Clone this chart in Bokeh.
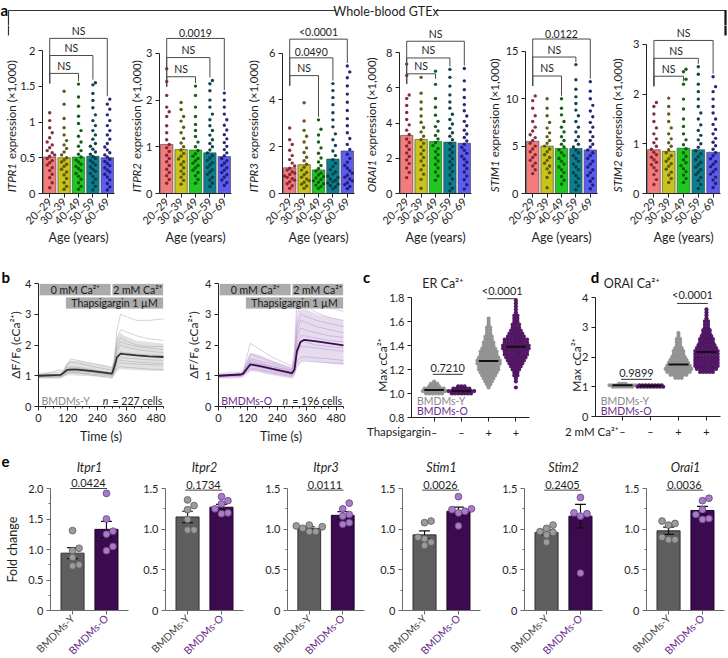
import math
from bokeh.plotting import figure
from bokeh.layouts import row, column
from bokeh.models import Range1d, Label, FixedTicker, LinearAxis
from bokeh.embed import file_html
from bokeh.resources import INLINE

# ============================ DATA ============================
# ---- panel a: whole-blood GTEx expression (x1,000) by age group ----
AGE_LABELS = ["20–29", "30–39", "40–49", "50–59", "60–69"]
A_GENES = ["ITPR1", "ITPR2", "ITPR3", "ORAI1", "STIM1", "STIM2"]
A_MEANS = [
    [0.51, 0.50, 0.51, 0.52, 0.50],
    [1.05, 0.94, 0.93, 0.87, 0.79],
    [1.10, 1.23, 1.01, 1.47, 1.82],
    [3.30, 3.07, 2.95, 2.92, 2.85],
    [5.50, 5.00, 4.75, 4.75, 4.60],
    [0.88, 0.85, 0.91, 0.88, 0.83],
]
ITPR1_VALUES = [
    [1.13, 1.02, 0.92, 0.85, 0.78, 0.72, 0.68, 0.64, 0.60, 0.57, 0.54, 0.52, 0.49, 0.46, 0.43, 0.40, 0.36, 0.32, 0.27, 0.22, 0.15, 0.08],
    [1.43, 1.25, 1.05, 0.92, 0.82, 0.74, 0.68, 0.63, 0.58, 0.54, 0.50, 0.47, 0.44, 0.41, 0.38, 0.34, 0.30, 0.26, 0.21, 0.15, 0.10, 0.06],
    [1.53, 1.35, 1.22, 1.08, 0.98, 0.88, 0.80, 0.72, 0.66, 0.60, 0.55, 0.51, 0.47, 0.44, 0.41, 0.38, 0.35, 0.32, 0.28, 0.24, 0.20, 0.15, 0.10, 0.06],
    [1.55, 1.52, 1.40, 1.30, 1.20, 1.10, 1.02, 0.95, 0.88, 0.82, 0.76, 0.70, 0.66, 0.62, 0.58, 0.55, 0.52, 0.49, 0.46, 0.43, 0.40, 0.37, 0.34, 0.31, 0.28, 0.24, 0.20, 0.15, 0.10, 0.05],
    [1.32, 1.25, 1.18, 1.10, 1.02, 0.95, 0.88, 0.82, 0.76, 0.70, 0.65, 0.61, 0.57, 0.54, 0.51, 0.48, 0.45, 0.42, 0.39, 0.36, 0.33, 0.30, 0.27, 0.23, 0.19, 0.14, 0.09, 0.05],
]
ITPR2_VALUES = [
    [2.67, 2.40, 2.10, 1.85, 1.75, 1.65, 1.45, 1.30, 1.15, 1.05, 0.98, 0.90, 0.82, 0.75, 0.68, 0.60, 0.52, 0.45, 0.38, 0.30, 0.22],
    [1.95, 1.80, 1.65, 1.55, 1.42, 1.30, 1.18, 1.08, 1.00, 0.93, 0.86, 0.80, 0.74, 0.68, 0.62, 0.55, 0.48, 0.42, 0.35, 0.28, 0.20],
    [2.30, 2.10, 1.85, 1.65, 1.48, 1.35, 1.22, 1.10, 1.00, 0.92, 0.85, 0.80, 0.75, 0.70, 0.65, 0.60, 0.55, 0.50, 0.45, 0.38, 0.30, 0.22],
    [2.42, 2.35, 2.20, 2.00, 1.85, 1.70, 1.58, 1.45, 1.35, 1.25, 1.15, 1.07, 1.00, 0.93, 0.87, 0.81, 0.76, 0.71, 0.66, 0.61, 0.56, 0.51, 0.46, 0.41, 0.35, 0.29, 0.22, 0.15],
    [2.15, 2.00, 1.85, 1.70, 1.58, 1.46, 1.36, 1.26, 1.17, 1.09, 1.01, 0.94, 0.87, 0.81, 0.75, 0.70, 0.65, 0.60, 0.55, 0.50, 0.45, 0.40, 0.35, 0.29, 0.23, 0.17],
]
ITPR3_VALUES = [
    [2.80, 2.30, 2.10, 1.85, 1.62, 1.45, 1.30, 1.18, 1.08, 1.00, 0.93, 0.87, 0.81, 0.75, 0.69, 0.63, 0.57, 0.50, 0.42, 0.33, 0.22],
    [3.88, 3.10, 2.70, 2.45, 2.20, 1.95, 1.75, 1.55, 1.40, 1.25, 1.12, 1.00, 0.90, 0.80, 0.70, 0.62, 0.55, 0.48, 0.40, 0.32, 0.22],
    [3.15, 2.75, 2.50, 2.20, 1.95, 1.72, 1.52, 1.35, 1.20, 1.07, 0.96, 0.87, 0.79, 0.72, 0.66, 0.60, 0.54, 0.48, 0.42, 0.36, 0.30, 0.22],
    [4.70, 4.40, 4.10, 3.80, 3.45, 3.15, 2.85, 2.55, 2.30, 2.05, 1.82, 1.62, 1.45, 1.30, 1.15, 1.02, 0.92, 0.83, 0.75, 0.68, 0.62, 0.56, 0.50, 0.45, 0.40, 0.34, 0.28, 0.20],
    [5.45, 5.20, 4.95, 4.60, 4.25, 3.90, 3.55, 3.20, 2.90, 2.60, 2.35, 2.10, 1.88, 1.68, 1.50, 1.34, 1.20, 1.08, 0.97, 0.87, 0.78, 0.70, 0.62, 0.54, 0.46, 0.38, 0.30, 0.20],
]
ORAI1_VALUES = [
    [7.35, 6.70, 5.60, 5.40, 5.00, 4.60, 4.20, 3.90, 3.60, 3.35, 3.10, 2.90, 2.70, 2.50, 2.30, 2.10, 1.90, 1.70, 1.45, 1.20, 0.90],
    [6.60, 5.70, 5.20, 4.80, 4.40, 4.05, 3.75, 3.50, 3.25, 3.05, 2.85, 2.65, 2.45, 2.25, 2.05, 1.85, 1.60, 1.35, 1.10, 0.80, 0.30],
    [6.95, 6.20, 5.40, 4.90, 4.45, 4.10, 3.80, 3.55, 3.30, 3.10, 2.90, 2.72, 2.55, 2.38, 2.20, 2.02, 1.85, 1.65, 1.45, 1.22, 1.00, 0.75],
    [7.05, 6.60, 6.10, 5.60, 5.20, 4.85, 4.50, 4.20, 3.95, 3.70, 3.45, 3.25, 3.05, 2.85, 2.68, 2.50, 2.33, 2.15, 1.98, 1.80, 1.62, 1.45, 1.25, 1.05, 0.82, 0.55, 0.30, 0.15],
    [7.10, 6.40, 5.90, 5.45, 5.05, 4.70, 4.40, 4.10, 3.85, 3.60, 3.38, 3.18, 2.98, 2.80, 2.62, 2.45, 2.28, 2.12, 1.95, 1.78, 1.60, 1.42, 1.22, 1.00, 0.78, 0.50, 0.25],
]
STIM1_VALUES = [
    [10.3, 9.8, 9.0, 8.2, 7.6, 7.0, 6.6, 6.2, 5.9, 5.6, 5.3, 5.0, 4.7, 4.4, 4.1, 3.8, 3.5, 3.2, 2.9, 2.5, 2.1],
    [10.0, 9.0, 8.2, 7.5, 6.9, 6.4, 6.0, 5.6, 5.3, 5.0, 4.7, 4.4, 4.1, 3.8, 3.5, 3.2, 2.9, 2.6, 2.2, 1.7, 0.6],
    [10.0, 9.0, 8.3, 7.6, 7.0, 6.5, 6.0, 5.6, 5.2, 4.9, 4.6, 4.3, 4.0, 3.7, 3.4, 3.1, 2.8, 2.5, 2.2, 1.8, 1.4, 1.0],
    [13.6, 12.0, 11.0, 10.2, 9.5, 8.8, 8.2, 7.6, 7.0, 6.5, 6.0, 5.6, 5.2, 4.9, 4.6, 4.3, 4.0, 3.7, 3.4, 3.1, 2.8, 2.5, 2.2, 1.9, 1.6, 1.2, 0.8, 0.4],
    [11.8, 10.8, 10.0, 9.3, 8.7, 8.1, 7.5, 7.0, 6.5, 6.0, 5.6, 5.2, 4.9, 4.6, 4.3, 4.0, 3.7, 3.4, 3.1, 2.8, 2.5, 2.2, 1.9, 1.6, 1.3, 0.9, 0.5],
]
STIM2_VALUES = [
    [1.83, 1.75, 1.60, 1.45, 1.32, 1.20, 1.10, 1.02, 0.95, 0.89, 0.83, 0.78, 0.73, 0.68, 0.63, 0.58, 0.52, 0.46, 0.38, 0.28, 0.18],
    [1.92, 1.75, 1.60, 1.45, 1.32, 1.20, 1.10, 1.02, 0.95, 0.88, 0.82, 0.76, 0.70, 0.65, 0.60, 0.55, 0.49, 0.43, 0.37, 0.30, 0.22],
    [2.50, 2.45, 2.30, 2.20, 1.90, 1.70, 1.50, 1.35, 1.20, 1.08, 0.98, 0.90, 0.82, 0.75, 0.68, 0.62, 0.56, 0.50, 0.44, 0.37, 0.30, 0.22],
    [2.55, 2.40, 2.20, 2.05, 1.90, 1.75, 1.62, 1.50, 1.38, 1.27, 1.17, 1.08, 1.00, 0.93, 0.86, 0.80, 0.74, 0.68, 0.63, 0.58, 0.53, 0.48, 0.43, 0.38, 0.32, 0.26, 0.18, 0.10],
    [2.35, 2.15, 2.05, 1.90, 1.75, 1.62, 1.50, 1.39, 1.29, 1.20, 1.11, 1.03, 0.96, 0.89, 0.82, 0.76, 0.70, 0.64, 0.59, 0.54, 0.49, 0.44, 0.39, 0.33, 0.27, 0.20, 0.12],
]
A_VALUES = [ITPR1_VALUES, ITPR2_VALUES, ITPR3_VALUES, ORAI1_VALUES, STIM1_VALUES, STIM2_VALUES]
# comparisons of 20-29 vs 40-49, 50-59 and 60-69
A_COMPARE_TO = [2, 3, 4]
A_PVALUES = [
    ["NS", "NS", "NS"],
    ["NS", "NS", "0.0019"],
    ["NS", "0.0490", "<0.0001"],
    ["NS", "NS", "NS"],
    ["NS", "NS", "0.0122"],
    ["NS", "NS", "NS"],
]
A_BRACKET_LEVELS = [
    [1.68, 1.93, 2.17],
    [2.50, 2.91, 3.32],
    [5.04, 5.80, 6.60],
    [6.80, 7.70, 8.65],
    [12.4, 14.4, 16.3],
    [2.36, 2.72, 3.08],
]
A_YTICKS = [[0, 0.5, 1, 1.5, 2], [0, 1, 2, 3], [0, 2, 4, 6], [0, 2, 4, 6, 8], [0, 5, 10, 15], [0, 1, 2, 3]]
A_YTICK_LABELS = [["0", "0.5", "1", "1.5", "2"], ["0", "1", "2", "3"], ["0", "2", "4", "6"],
                  ["0", "2", "4", "6", "8"], ["0", "5", "10", "15"], ["0", "1", "2", "3"]]

# ---- panel b: Ca2+ imaging traces ----
B_TIME = [0, 90, 100, 115, 130, 160, 220, 290, 300, 310, 320, 335, 350, 400, 450, 510]
B_Y_MEAN = [1.00, 1.03, 1.08, 1.18, 1.20, 1.20, 1.15, 1.08, 1.07, 1.30, 1.60, 1.72, 1.70, 1.66, 1.63, 1.61]
B_Y_LOW = [0.90, 0.90, 0.95, 1.00, 1.02, 1.00, 0.98, 0.92, 0.90, 1.00, 1.15, 1.22, 1.20, 1.18, 1.16, 1.15]
B_Y_HIGH = [1.10, 1.15, 1.20, 1.40, 1.50, 1.50, 1.40, 1.30, 1.28, 1.60, 2.20, 2.40, 2.30, 2.15, 2.10, 2.05]
B_Y_TRACES = [
    [1.00, 1.02, 1.10, 1.35, 1.45, 1.42, 1.30, 1.20, 1.18, 1.60, 2.50, 3.00, 2.95, 2.80, 2.80, 2.85],
    [1.00, 1.00, 1.05, 1.25, 1.30, 1.28, 1.20, 1.12, 1.10, 1.50, 2.20, 2.50, 2.45, 2.30, 2.20, 2.15],
    [0.98, 1.00, 1.05, 1.20, 1.25, 1.25, 1.18, 1.10, 1.08, 1.40, 1.90, 2.10, 2.05, 1.95, 1.90, 1.85],
    [1.00, 1.02, 1.06, 1.15, 1.20, 1.20, 1.15, 1.08, 1.06, 1.30, 1.65, 1.78, 1.75, 1.70, 1.68, 1.65],
    [1.02, 1.03, 1.07, 1.20, 1.22, 1.20, 1.12, 1.05, 1.03, 1.25, 1.50, 1.60, 1.58, 1.55, 1.52, 1.50],
    [0.97, 0.98, 1.00, 1.10, 1.15, 1.15, 1.10, 1.03, 1.00, 1.15, 1.35, 1.42, 1.40, 1.38, 1.36, 1.35],
    [1.00, 1.00, 1.02, 1.05, 1.10, 1.10, 1.05, 1.00, 0.98, 1.10, 1.25, 1.30, 1.28, 1.25, 1.22, 1.20],
    [1.00, 1.20, 1.10, 1.30, 1.55, 1.50, 1.40, 1.30, 1.25, 1.40, 1.80, 2.00, 1.95, 1.85, 1.80, 1.75],
    [0.95, 0.95, 0.98, 1.10, 1.12, 1.10, 1.02, 0.95, 0.92, 1.20, 1.45, 1.50, 1.48, 1.45, 1.42, 1.40],
    [1.00, 1.00, 1.05, 1.20, 1.25, 1.22, 1.15, 1.10, 1.10, 1.45, 2.00, 2.25, 2.15, 2.00, 1.95, 1.95],
]
B_O_MEAN = [1.00, 1.04, 1.06, 1.22, 1.37, 1.33, 1.22, 1.10, 1.08, 1.20, 1.80, 2.10, 2.17, 2.12, 2.06, 1.99]
B_O_LOW = [0.90, 0.92, 0.95, 1.05, 1.15, 1.12, 1.02, 0.92, 0.90, 1.00, 1.30, 1.45, 1.50, 1.45, 1.40, 1.35]
B_O_HIGH = [1.10, 1.15, 1.20, 1.50, 1.75, 1.70, 1.50, 1.30, 1.28, 1.60, 2.80, 3.30, 3.20, 3.00, 2.90, 2.80]
B_O_TRACES = [
    [1.00, 1.05, 1.10, 1.60, 2.05, 1.90, 1.60, 1.35, 1.30, 1.80, 3.50, 4.00, 3.80, 3.40, 3.20, 3.10],
    [1.00, 1.03, 1.08, 1.40, 1.70, 1.62, 1.45, 1.25, 1.22, 1.60, 2.90, 3.40, 3.30, 3.05, 2.90, 2.80],
    [0.98, 1.02, 1.05, 1.30, 1.50, 1.45, 1.30, 1.15, 1.12, 1.40, 2.40, 2.80, 2.75, 2.60, 2.50, 2.40],
    [1.00, 1.04, 1.06, 1.25, 1.42, 1.38, 1.25, 1.12, 1.10, 1.30, 2.00, 2.30, 2.30, 2.22, 2.15, 2.10],
    [1.02, 1.05, 1.07, 1.20, 1.35, 1.30, 1.20, 1.08, 1.05, 1.20, 1.70, 1.95, 1.95, 1.90, 1.85, 1.80],
    [0.97, 1.00, 1.03, 1.15, 1.25, 1.22, 1.12, 1.02, 1.00, 1.10, 1.45, 1.60, 1.62, 1.58, 1.55, 1.50],
    [1.00, 1.02, 1.04, 1.10, 1.20, 1.18, 1.08, 0.98, 0.96, 1.05, 1.30, 1.45, 1.48, 1.45, 1.42, 1.40],
    [1.00, 1.06, 1.10, 1.35, 1.55, 1.50, 1.38, 1.20, 1.18, 1.50, 2.60, 3.00, 2.95, 2.80, 2.70, 2.60],
    [0.95, 0.98, 1.00, 1.18, 1.30, 1.28, 1.18, 1.05, 1.02, 1.25, 1.90, 2.15, 2.10, 2.00, 1.95, 1.90],
    [1.00, 1.03, 1.05, 1.28, 1.45, 1.40, 1.30, 1.18, 1.15, 1.45, 2.20, 2.55, 2.50, 2.40, 2.30, 2.25],
]
B_BOX_TEXT = ["0 mM Ca²⁺", "2 mM Ca²⁺", "Thapsigargin 1 µM"]
B_BOX_LEFT = [3, 300, 110]
B_BOX_RIGHT = [296, 510, 510]
B_BOX_BOTTOM = [3.60, 3.60, 3.17]
B_BOX_TOP = [4.00, 4.00, 3.56]
B_N_CELLS = [227, 196]

# ---- panel c: ER Ca2+ (max cCa2+), rows of cells: value bins and counts ----
C_TICK_LABELS = ["–", "–", "+", "+"]
C_BINS = [
    [1.00, 1.02, 1.04, 1.06, 1.08, 1.10],
    [1.00, 1.02, 1.04, 1.06],
    [1.050, 1.075, 1.100, 1.125, 1.150, 1.175, 1.200, 1.225, 1.250, 1.275, 1.300, 1.325,
     1.350, 1.375, 1.400, 1.425, 1.450, 1.475, 1.500, 1.525, 1.550, 1.575, 1.600, 1.625],
    [1.050, 1.100, 1.125, 1.150, 1.175, 1.200, 1.225, 1.250, 1.275, 1.300, 1.325, 1.350, 1.375, 1.400, 1.425,
     1.450, 1.475, 1.500, 1.525, 1.550, 1.575, 1.600, 1.625, 1.650, 1.675, 1.700, 1.725, 1.750, 1.775],
]
C_COUNTS = [
    [6, 8, 7, 4, 3, 1],
    [7, 9, 6, 3],
    [1, 2, 3, 4, 5, 6, 7, 7, 8, 8, 7, 6, 6, 5, 4, 4, 3, 3, 2, 2, 2, 1, 1, 1],
    [1, 1, 1, 2, 2, 3, 4, 5, 6, 7, 8, 8, 9, 9, 8, 8, 6, 5, 4, 3, 3, 2, 2, 2, 1, 1, 1, 1, 1],
]
C_MEANS = [1.03, 1.02, 1.27, 1.39]
C_PVALUES = ["0.7210", "<0.0001"]
C_PLEVELS = [1.16, 1.79]

# ---- panel d: ORAI Ca2+ ----
D_TICK_LABELS = ["–", "–", "+", "+"]
D_BINS = [
    [1.00, 1.05, 1.10],
    [1.00, 1.05],
    [1.3, 1.4, 1.5, 1.6, 1.7, 1.8, 1.9, 2.0, 2.1, 2.2, 2.3, 2.4, 2.5, 2.6, 2.7, 2.8],
    [1.5, 1.6, 1.7, 1.8, 1.9, 2.0, 2.1, 2.2, 2.3, 2.4, 2.5, 2.6, 2.7, 2.8, 2.9, 3.0, 3.1, 3.2, 3.3, 3.4, 3.5, 3.6],
]
D_COUNTS = [
    [7, 9, 3],
    [9, 8],
    [3, 6, 8, 9, 8, 7, 6, 5, 4, 4, 3, 2, 2, 2, 1, 1],
    [5, 7, 8, 8, 8, 8, 8, 8, 7, 6, 5, 5, 4, 3, 3, 2, 2, 2, 1, 1, 1, 1],
]
D_MEANS = [1.05, 1.03, 1.75, 2.17]
D_PVALUES = ["0.9899", "<0.0001"]
D_PLEVELS = [1.25, 3.80]

# ---- panel e: qPCR fold change ----
E_GENES = ["Itpr1", "Itpr2", "Itpr3", "Stim1", "Stim2", "Orai1"]
E_GROUPS = ["BMDMs-Y", "BMDMs-O"]
E_MEAN_Y = [0.94, 1.15, 1.01, 0.93, 0.96, 0.98]
E_MEAN_O = [1.33, 1.27, 1.17, 1.22, 1.16, 1.23]
E_SEM_Y = [0.09, 0.07, 0.02, 0.05, 0.03, 0.045]
E_SEM_O = [0.13, 0.035, 0.045, 0.05, 0.145, 0.05]
E_PTS_Y = [
    [1.31, 1.02, 0.98, 0.87, 0.75, 0.73],
    [1.36, 1.29, 1.24, 1.12, 0.99, 0.99],
    [1.05, 1.04, 1.03, 1.01, 0.97, 0.97],
    [1.10, 1.08, 0.90, 0.88, 0.84, 0.80],
    [1.05, 1.01, 0.97, 0.96, 0.93, 0.84],
    [1.10, 1.07, 1.05, 0.90, 0.87, 0.87],
]
E_PTS_O = [
    [1.92, 1.50, 1.30, 1.25, 1.05, 0.98],
    [1.40, 1.35, 1.31, 1.25, 1.20, 1.19],
    [1.32, 1.25, 1.18, 1.16, 1.08, 1.06],
    [1.40, 1.25, 1.24, 1.22, 1.20, 1.04],
    [1.39, 1.20, 1.19, 1.16, 0.46],
    [1.38, 1.35, 1.24, 1.18, 1.13, 1.12],
]
E_PVALUES = ["0.0424", "0.1734", "0.0111", "0.0026", "0.2405", "0.0036"]
E_YMAX = [2.0, 1.5, 1.5, 1.5, 1.5, 1.5]
E_PLEVELS = [2.0, 1.48, 1.48, 1.48, 1.48, 1.48]

# ============================ STYLE ============================
FONT = "Lato"
INK = "#1e1e1e"
BAR_COLORS = ["#f47b7b", "#c9c31c", "#1ec81e", "#0c7f8e", "#5c5cf0"]
DOT_COLORS = ["#7d2433", "#55530a", "#0a560a", "#053a44", "#1b1b70"]
GRAY_PT = "#8e8e8e"
PURPLE_PT = "#4b0e5e"
PURPLE_TXT = "#6b2d8c"

SX = 727 / 728
SY = 657 / 658


def hx(v):
    return int(round(v * SX))


def hy(v):
    return int(round(v * SY))


class Geo:
    """Convert reference-picture pixel positions to a figure's data units."""

    def __init__(self, frx0, frx1, fry0, fry1, xr, yr):
        self.px0, self.px1 = hx(frx0), hx(frx1)
        self.py0, self.py1 = hy(fry0), hy(fry1)
        self.xr, self.yr = xr, yr

    def x(self, rx):
        return self.xr[0] + (rx * SX - self.px0) / (self.px1 - self.px0) * (self.xr[1] - self.xr[0])

    def y(self, ry):
        return self.yr[0] + (self.py1 - ry * SY) / (self.py1 - self.py0) * (self.yr[1] - self.yr[0])

    def dx(self, px):
        return px * (self.xr[1] - self.xr[0]) / (self.px1 - self.px0)

    def dy(self, px):
        return px * (self.yr[1] - self.yr[0]) / (self.py1 - self.py0)


def mk(fx0, fx1, fy0, fy1, frx0, frx1, fry0, fry1, xr, yr):
    """Figure whose plotting area fills the whole canvas; axes sit at fixed data locations."""
    W = hx(fx1) - hx(fx0)
    H = hy(fy1) - hy(fy0)
    kx = (xr[1] - xr[0]) / (hx(frx1) - hx(frx0))
    ky = (yr[1] - yr[0]) / (hy(fry1) - hy(fry0))
    X0 = xr[0] - (hx(frx0) - hx(fx0)) * kx
    X1 = xr[1] + (hx(fx1) - hx(frx1)) * kx
    Y0 = yr[0] - (hy(fy1) - hy(fry1)) * ky
    Y1 = yr[1] + (hy(fry0) - hy(fy0)) * ky
    p = figure(width=W, height=H, x_range=Range1d(X0, X1), y_range=Range1d(Y0, Y1),
               output_backend="svg", toolbar_location=None,
               min_border_left=0, min_border_right=0, min_border_top=0, min_border_bottom=0)
    p.title.visible = False
    p.outline_line_color = None
    p.background_fill_color = "white"
    p.border_fill_color = "white"
    p.xgrid.visible = False
    p.ygrid.visible = False
    p.xaxis.fixed_location = yr[0]
    p.yaxis.fixed_location = xr[0]
    p.xaxis.bounds = tuple(xr)
    p.yaxis.bounds = tuple(yr)
    return p, Geo(frx0, frx1, fry0, fry1, xr, yr)


def style_axes(p, line="#222222", size="11px"):
    for ax in p.axis:
        ax.axis_line_color = line
        ax.axis_line_width = 1
        ax.major_tick_line_color = line
        ax.major_tick_out = 4
        ax.major_tick_in = 0
        ax.minor_tick_line_color = None
        ax.major_label_text_font = FONT
        ax.major_label_text_font_size = size
        ax.major_label_text_color = INK
        ax.major_label_standoff = 3


def lab(p, x, y, text, size=11.0, align="center", base="middle", color=INK, style="normal", angle=0.0):
    p.add_layout(Label(x=x, y=y, text=text, text_font=FONT, text_font_size=f"{size}px",
                       text_align=align, text_baseline=base, text_color=color,
                       text_font_style=style, angle=angle))


W_EM = {"I": .27, "T": .55, "P": .60, "R": .62, "S": .52, "M": .86, "O": .74, "A": .66,
        "1": .58, "2": .58, "3": .58, "n": .55, "=": .58, " ": .19, "7": .58, "9": .58,
        "6": .58, "c": .46, "e": .52, "l": .24, "s": .41}


def tw(s, size):
    return sum(W_EM.get(ch, 0.55) for ch in s) * size


def swarm(ypx, dxc, dyc, maxoff):
    n = len(ypx)
    order = sorted(range(n), key=lambda i: ypx[i])
    cands = [0.0]
    k = 1
    while k * dxc <= maxoff + 1e-9:
        cands += [k * dxc, -k * dxc]
        k += 1
    placed, out = [], [0.0] * n
    for i in order:
        y = ypx[i]
        near = [(px, py) for px, py in placed if abs(py - y) < dyc]
        best, best_n = 0.0, 10 ** 9
        for c in cands:
            hits = sum(1 for px, py in near if abs(px - c) < dxc * 0.99)
            if hits == 0:
                best = c
                break
            if hits < best_n:
                best_n, best = hits, c
        out[i] = best
        placed.append((best, y))
    return out


# ============================ HEADER ============================
HDR_H = 25
hdr = figure(width=hx(728), height=hy(HDR_H), x_range=Range1d(0, 728), y_range=Range1d(HDR_H, 0),
             output_backend="svg", toolbar_location=None, x_axis_type=None, y_axis_type=None,
             min_border_left=0, min_border_right=0, min_border_top=0, min_border_bottom=0)
hdr.title.visible = False
hdr.outline_line_color = None
hdr.xgrid.visible = False
hdr.ygrid.visible = False
hdr.segment(x0=[8, 436, 8], y0=[10, 10, 10], x1=[336, 726, 8], y1=[10, 10, HDR_H], line_color="#333333",
            line_width=1.2)
hdr.segment(x0=[726], y0=[9.5], x1=[726], y1=[HDR_H], line_color="#111111", line_width=2.2)
lab(hdr, 386, 10.5, "Whole-blood GTEx", size=12.5)
lab(hdr, 0, 0.5, "a", size=15, align="left", base="top", style="bold", color="#000000")

# ============================ PANEL A ============================
A_FIG = [(0, 117, 42, 114), (117, 240, 159, 231), (240, 358, 282, 354),
         (358, 483, 400, 472), (483, 605, 526, 598), (605, 728, 647, 721)]
A_YTOP = [2.28, 3.49, 6.97, 9.26, 17.2, 3.28]
A_YLAB_X = [11, 136, 253, 372, 495, 618]
a_figs = []
for i, gene in enumerate(A_GENES):
    fx0, fx1, frx0, frx1 = A_FIG[i]
    p, g = mk(fx0, fx1, HDR_H, 248, frx0, frx1, 30, 193, (-0.5, 4.5), (0, A_YTOP[i]))
    cats = list(range(5))
    p.vbar(x=cats, top=A_MEANS[i], width=0.86, fill_color=BAR_COLORS, line_color="#3a3a3a", line_width=0.6)
    ppy = (g.py1 - g.py0) / A_YTOP[i]
    ppx = (g.px1 - g.px0) / 5.0
    for j in range(5):
        vals = A_VALUES[i][j]
        off = swarm([v * ppy for v in vals], 2.5, 6.0, 5.0)
        p.scatter(x=[j + o / ppx for o in off], y=vals, size=3.4, fill_color=DOT_COLORS[j],
                  line_color=None, fill_alpha=0.95)
    # significance brackets
    levels = A_BRACKET_LEVELS[i]
    left_bottom = levels[0] - g.dy(10)
    x0s, y0s, x1s, y1s = [], [], [], []
    for t, lvl, txt in zip(A_COMPARE_TO, levels, A_PVALUES[i]):
        rb = min(max(A_VALUES[i][t]) + g.dy(3), lvl - g.dy(5))
        x0s += [0, 0, t]
        y0s += [lvl, lvl, lvl]
        x1s += [t, 0, t]
        y1s += [lvl, left_bottom, rb]
        lab(p, t / 2.0, lvl + g.dy(1.5), txt, size=10.5, base="bottom")
    p.segment(x0=x0s, y0=y0s, x1=x1s, y1=y1s, line_color="#4a4a4a", line_width=1)
    # continuation of the "Whole-blood GTEx" bracket legs
    if i == 0:
        p.segment(x0=[g.x(8)], y0=[g.y(HDR_H - 1)], x1=[g.x(8)], y1=[g.y(35)], line_color="#333333", line_width=1.2)
    if i == len(A_GENES) - 1:
        p.segment(x0=[g.x(726)], y0=[g.y(HDR_H - 1)], x1=[g.x(726)], y1=[g.y(35)], line_color="#111111",
                  line_width=2.2)
    style_axes(p)
    p.xaxis.ticker = FixedTicker(ticks=cats)
    p.xaxis.major_label_overrides = {c: AGE_LABELS[c] for c in cats}
    p.xaxis.major_label_orientation = math.pi / 4
    p.xaxis.major_label_standoff = 2
    p.yaxis.ticker = FixedTicker(ticks=A_YTICKS[i])
    p.yaxis.major_label_overrides = {t: s for t, s in zip(A_YTICKS[i], A_YTICK_LABELS[i])}
    p.yaxis.bounds = (0, A_YTICKS[i][-1])
    # y-axis title: italic gene symbol + plain remainder
    ylx = g.x(A_YLAB_X[i])
    y0 = g.y(192)
    lab(p, ylx, y0, gene, size=11.5, align="left", style="italic", angle=math.pi / 2)
    lab(p, ylx, y0 + g.dy(tw(gene, 11.5) + 3), "expression (×1,000)", size=11.5, align="left",
        angle=math.pi / 2)
    lab(p, 2, g.y(237), "Age (years)", size=12.5)
    a_figs.append(p)


# ============================ PANEL B ============================
def panel_b(fx0, fx1, frx0, frx1, mean, low, high, traces, env_col, tr_col, mean_col, grp, grp_col, n,
            ylab_x, letter):
    p, g = mk(fx0, fx1, 248, 447, frx0, frx1, 283, 407, (0, 510), (0, 4))
    p.varea(x=B_TIME, y1=low, y2=high, fill_color=env_col, fill_alpha=0.55)
    p.multi_line(xs=[B_TIME] * len(traces), ys=traces, line_color=tr_col, line_alpha=0.55, line_width=0.9)
    p.line(B_TIME, mean, line_color=mean_col, line_width=1.8)
    p.quad(left=B_BOX_LEFT, right=B_BOX_RIGHT, bottom=B_BOX_BOTTOM, top=B_BOX_TOP,
           fill_color="#ababab", line_color="white", line_width=0.8)
    for t, l, r, b, tp in zip(B_BOX_TEXT, B_BOX_LEFT, B_BOX_RIGHT, B_BOX_BOTTOM, B_BOX_TOP):
        lab(p, (l + r) / 2.0, (b + tp) / 2.0, t, size=10.5, color="#1a1a1a")
    style_axes(p)
    p.xaxis.ticker = FixedTicker(ticks=[0, 120, 240, 360, 480], minor_ticks=list(range(30, 511, 30)))
    p.xaxis.minor_tick_line_color = "#222222"
    p.xaxis.minor_tick_out = 2
    p.xaxis.minor_tick_in = 0
    p.yaxis.ticker = FixedTicker(ticks=[0, 1, 2, 3, 4])
    lab(p, g.x(frx0 + 3), g.y(401), grp, size=10.5, align="left", color=grp_col)
    rest = f"= {n} cells"
    lab(p, g.x(frx1 - 1), g.y(401), rest, size=10.5, align="right")
    lab(p, g.x(frx1 - 1) - g.dx(tw(rest, 10.5) + 6), g.y(401), "n", size=10.5, align="right", style="italic")
    lab(p, g.x(ylab_x), g.y(345), "ΔF/F₀ (cCa²⁺)", size=12, angle=math.pi / 2)
    lab(p, 255, g.y(437), "Time (s)", size=12.5)
    if letter:
        lab(p, g.x(1), g.y(277), letter, size=15, align="left", style="bold", color="#000000")
    return p


b1 = panel_b(0, 178, 38, 163, B_Y_MEAN, B_Y_LOW, B_Y_HIGH, B_Y_TRACES, "#c9c9c9", "#a8a8a8", "#333333",
             "BMDMs-Y", "#8a8a8a", B_N_CELLS[0], 15, "b")
b2 = panel_b(178, 355, 218, 343, B_O_MEAN, B_O_LOW, B_O_HIGH, B_O_TRACES, "#d2bfe0", "#b394c9", "#3c0a4e",
             "BMDMs-O", PURPLE_TXT, B_N_CELLS[1], 193, None)


# ============================ PANELS C, D ============================
def panel_cd(fx0, fx1, frx0, frx1, fry1, xr, yr, yticks, ylabels, bins, counts, means, pvals, plevels,
             ticklabels, title, title_x, letter, letter_x, ylab_x, cond, cond_x):
    p, g = mk(fx0, fx1, 248, 447, frx0, frx1, 297, fry1, xr, yr)
    cols = [GRAY_PT, PURPLE_PT, GRAY_PT, PURPLE_PT]
    step = g.dx(3.2)
    for k in range(4):
        xs, ys = [], []
        for v, c in zip(bins[k], counts[k]):
            for m in range(c):
                xs.append(k + (m - (c - 1) / 2.0) * step)
                ys.append(v)
        p.scatter(x=xs, y=ys, size=4.2, fill_color=cols[k], line_color=None, fill_alpha=0.95)
    p.segment(x0=[k - 0.36 for k in range(4)], y0=means, x1=[k + 0.36 for k in range(4)], y1=means,
              line_color="#111111", line_width=2)
    for (a, b), txt, lvl in zip([(0, 1), (2, 3)], pvals, plevels):
        p.segment(x0=[a - 0.05], y0=[lvl], x1=[b + 0.05], y1=[lvl], line_color="#333333", line_width=1)
        lab(p, (a + b) / 2.0, lvl + g.dy(2), txt, size=11, base="bottom")
    style_axes(p)
    p.xaxis.ticker = FixedTicker(ticks=[0, 1, 2, 3])
    p.xaxis.major_label_overrides = {k: s for k, s in enumerate(ticklabels)}
    p.xaxis.major_label_standoff = 4
    p.yaxis.ticker = FixedTicker(ticks=yticks)
    p.yaxis.major_label_overrides = {t: s for t, s in zip(yticks, ylabels)}
    lab(p, g.x(title_x), g.y(283), title, size=12.5)
    lab(p, g.x(letter_x), g.y(277), letter, size=15, align="left", style="bold", color="#000000")
    lab(p, g.x(ylab_x), g.y(365), "Max cCa²⁺", size=12, angle=math.pi / 2)
    lab(p, g.x(frx0 + 5), g.y(401), "BMDMs-Y", size=10.5, align="left", color="#8a8a8a")
    lab(p, g.x(frx0 + 5), g.y(411), "BMDMs-O", size=10.5, align="left", color=PURPLE_TXT)
    lab(p, g.x(cond_x), g.y(432), cond, size=11.5, align="right")
    return p


c_fig = panel_cd(355, 560, 412, 530, 418, (-0.83, 3.5), (0.8, 1.8), [0.8, 1.0, 1.2, 1.4, 1.6, 1.8],
                 ["0.8", "1.0", "1.2", "1.4", "1.6", "1.8"], C_BINS, C_COUNTS, C_MEANS, C_PVALUES, C_PLEVELS,
                 C_TICK_LABELS, "ER Ca²⁺", 443, "c", 363, 383, "Thapsigargin", 431)
d_fig = panel_cd(560, 728, 596, 721, 417, (-0.96, 3.5), (0, 4), [0, 1, 2, 3, 4],
                 ["0", "1", "2", "3", "4"], D_BINS, D_COUNTS, D_MEANS, D_PVALUES, D_PLEVELS,
                 D_TICK_LABELS, "ORAI Ca²⁺", 632, "d", 591, 577, "2 mM Ca²⁺", 619)

# ============================ PANEL E ============================
E_FIG = [(0, 130, 50, 128), (130, 250, 165, 243), (250, 370, 287, 365),
         (370, 487, 403, 481), (487, 607, 525, 603), (607, 728, 647, 725)]
e_figs = []
for i, gene in enumerate(E_GENES):
    fx0, fx1, frx0, frx1 = E_FIG[i]
    ytop = E_YMAX[i]
    p, g = mk(fx0, fx1, 447, 658, frx0, frx1, 489, 611, (-0.65, 1.65), (0, ytop))
    p.vbar(x=[0, 1], top=[E_MEAN_Y[i], E_MEAN_O[i]], width=0.68,
           fill_color=["#5e5e5e", "#3c0a4e"], line_color=["#333333", "#1e0628"], line_width=1)
    cap = 0.16
    for k, (m, s) in enumerate([(E_MEAN_Y[i], E_SEM_Y[i]), (E_MEAN_O[i], E_SEM_O[i])]):
        p.segment(x0=[k, k - cap, k - cap], y0=[m - s, m + s, m - s], x1=[k, k + cap, k + cap],
                  y1=[m + s, m + s, m - s], line_color="#111111", line_width=1.2)
    ppy = (g.py1 - g.py0) / ytop
    ppx = (g.px1 - g.px0) / 2.3
    for k, (pts, fc, lc) in enumerate([(E_PTS_Y[i], "#9b9b9b", "#5a5a5a"), (E_PTS_O[i], "#a57dc2", "#6b3f8a")]):
        off = swarm([v * ppy for v in pts], 6.5, 6.5, 13.0)
        p.scatter(x=[k + o / ppx for o in off], y=pts, size=6.8, fill_color=fc, line_color=lc, line_width=0.8)
    lvl = E_PLEVELS[i]
    p.segment(x0=[-0.07], y0=[lvl], x1=[1.02], y1=[lvl], line_color="#444444", line_width=1)
    lab(p, 0.47, lvl + g.dy(1.5), E_PVALUES[i], size=11, base="bottom")
    # second bottom axis so that each group label gets its own colour
    ax2 = LinearAxis()
    p.add_layout(ax2, "below")
    style_axes(p, line="#6a6a6a")
    yt = [0, 0.5, 1.0, 1.5] + ([2.0] if E_YMAX[i] >= 2 else [])
    p.yaxis.ticker = FixedTicker(ticks=yt, minor_ticks=[t + 0.25 for t in yt[:-1]])
    p.yaxis.major_label_overrides = {0: "0", 0.5: "0.5", 1.0: "1.0", 1.5: "1.5", 2.0: "2.0"}
    p.yaxis.minor_tick_line_color = "#6a6a6a"
    p.yaxis.minor_tick_out = 2
    p.yaxis.minor_tick_in = 0
    p.yaxis.bounds = (0, E_YMAX[i])
    xa = p.xaxis[0]
    xa.ticker = FixedTicker(ticks=[0])
    xa.major_label_overrides = {0: E_GROUPS[0]}
    xa.major_label_text_color = "#4a4a4a"
    for ax in (xa, ax2):
        ax.major_label_orientation = math.pi / 4
        ax.major_label_standoff = 2
        ax.major_label_text_font_size = "10.5px"
    ax2.fixed_location = 0
    ax2.bounds = (-0.65, 1.65)
    ax2.axis_line_color = None
    ax2.ticker = FixedTicker(ticks=[1])
    ax2.major_label_overrides = {1: E_GROUPS[1]}
    ax2.major_label_text_color = PURPLE_TXT
    lab(p, 0.5, g.y(468), gene, size=12.5, style="italic")
    if i == 0:
        lab(p, g.x(1), g.y(462), "e", size=15, align="left", style="bold", color="#000000")
        lab(p, g.x(12), g.y(550), "Fold change", size=12.5, angle=math.pi / 2)
    e_figs.append(p)

layout = column(hdr, row(*a_figs), row(b1, b2, c_fig, d_fig), row(*e_figs))
open("out.html", "w").write(file_html(layout, INLINE, title="Whole-blood GTEx"))
